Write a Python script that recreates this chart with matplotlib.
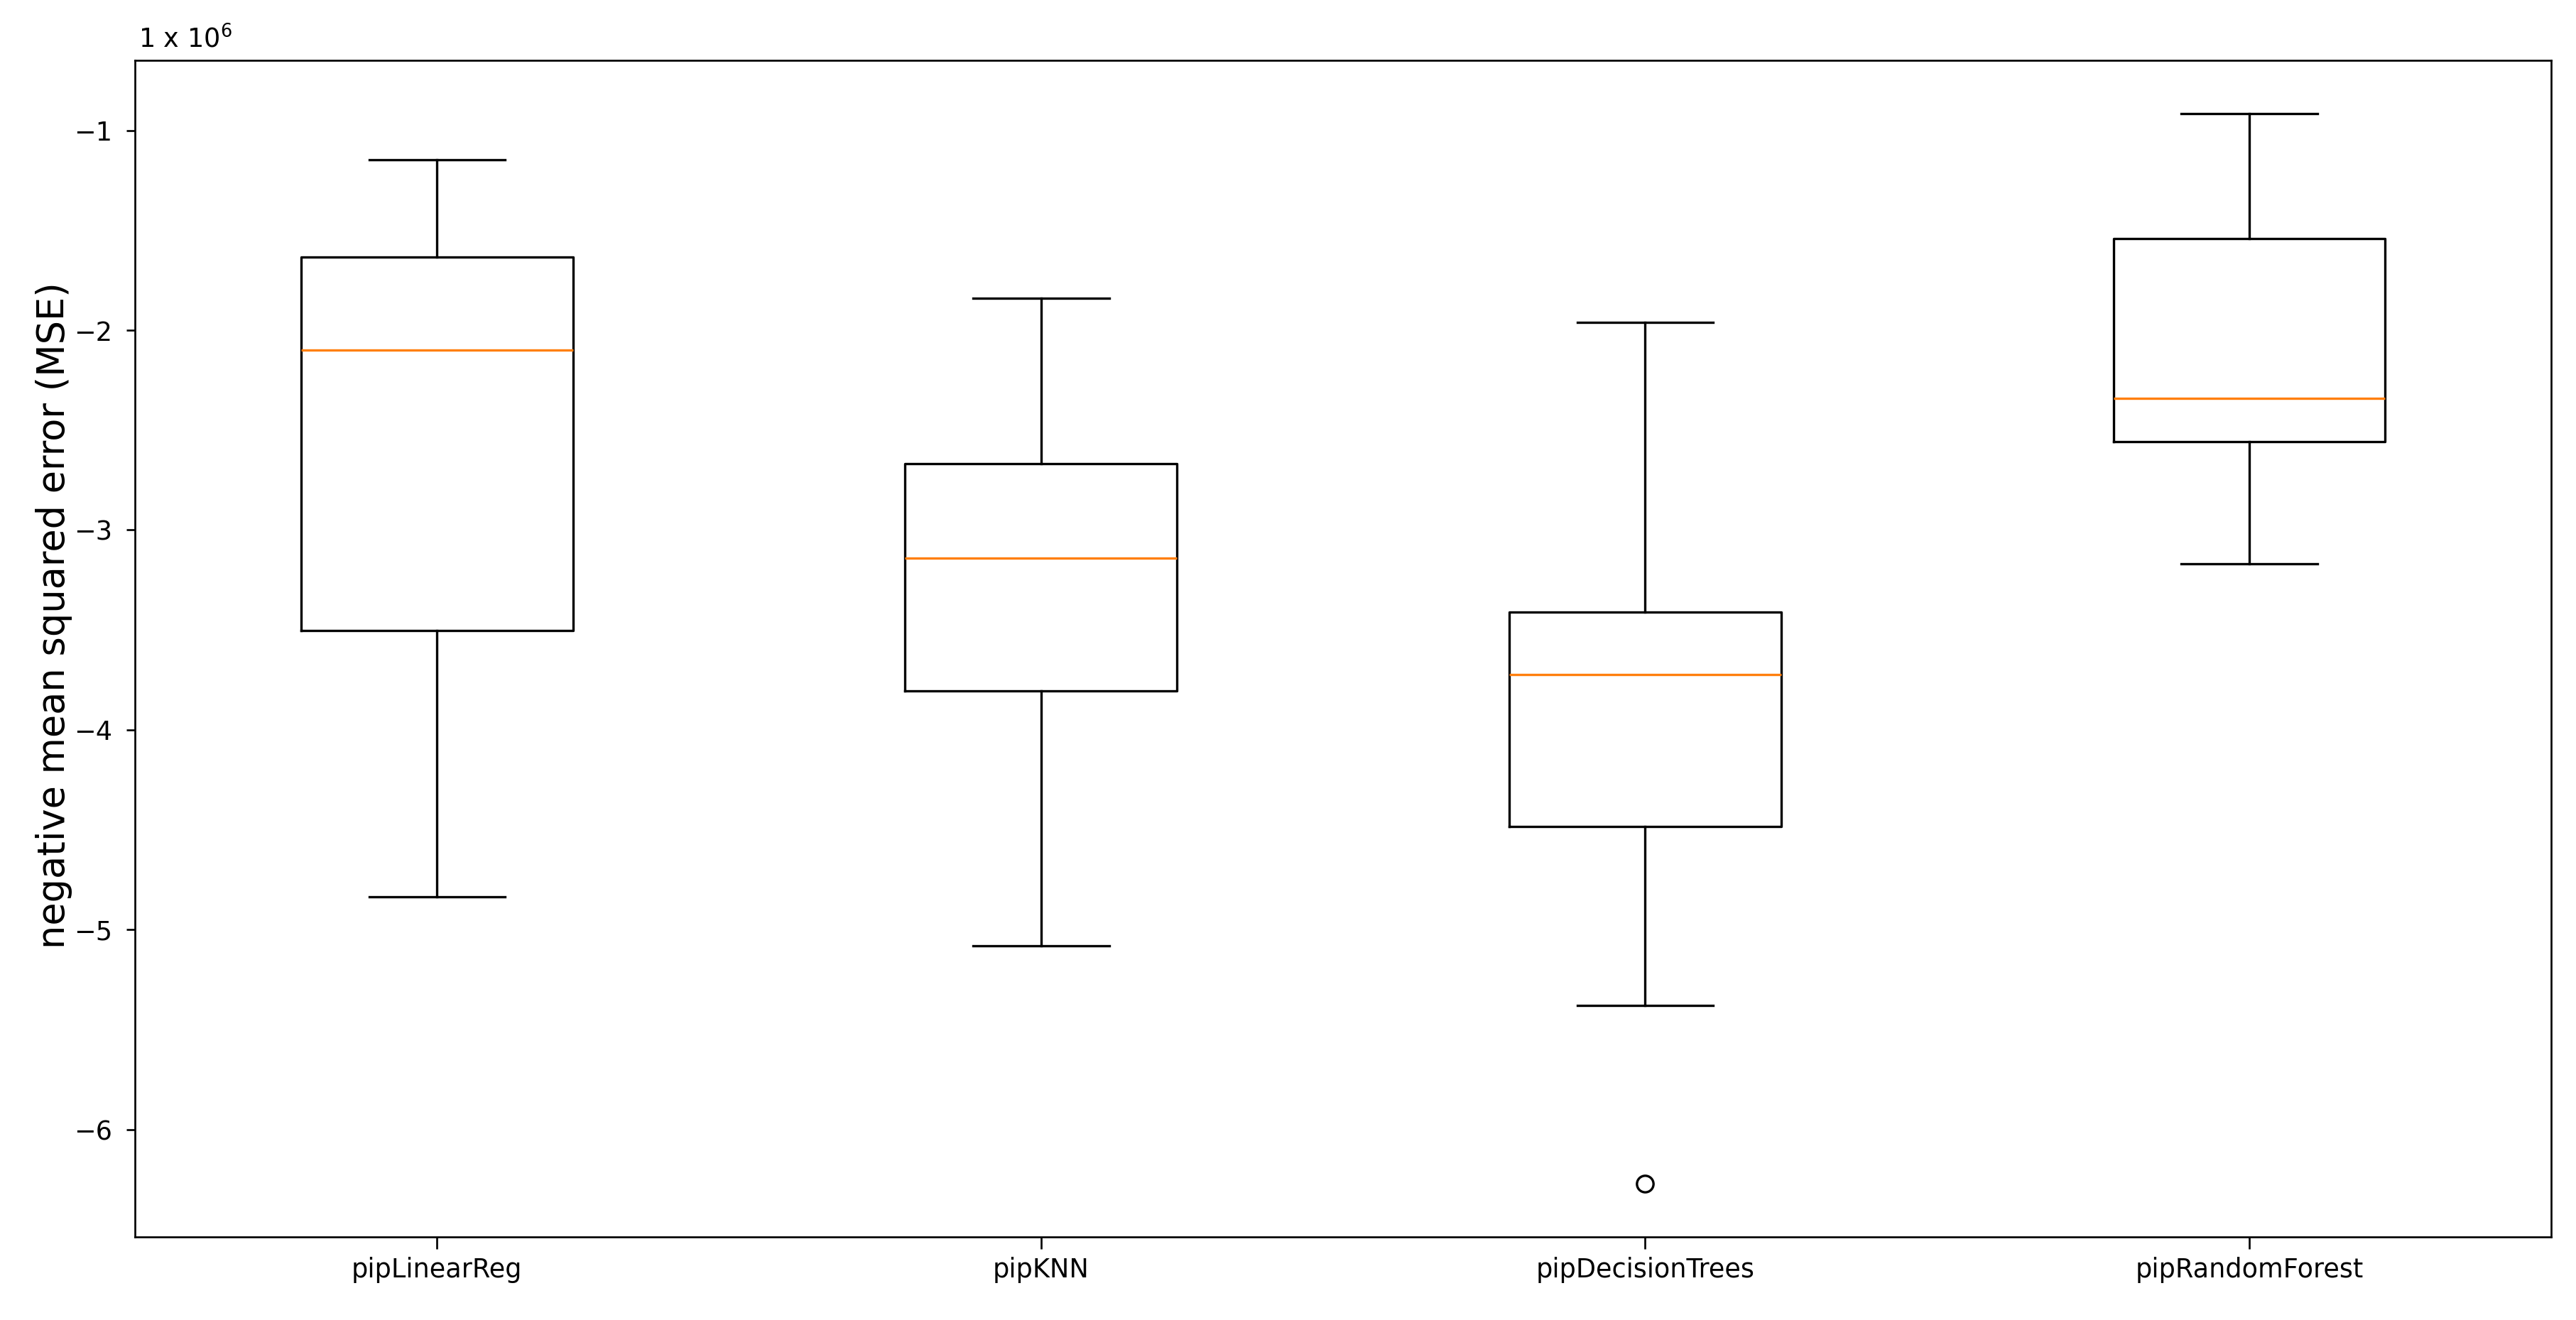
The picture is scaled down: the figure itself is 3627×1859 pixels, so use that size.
import matplotlib
matplotlib.use('Agg')
import matplotlib.pyplot as plt

# cross-validation scores per pipeline, in units of 1e6 (negative MSE)
models = ['pipLinearReg', 'pipKNN', 'pipDecisionTrees', 'pipRandomForest']
whisker_high = [-1.148, -1.840, -1.962, -0.917]
q3 = [-1.635, -2.669, -3.409, -1.543]
median = [-2.098, -3.142, -3.724, -2.340]
q1 = [-3.504, -3.806, -4.484, -2.556]
whisker_low = [-4.836, -5.082, -5.379, -3.170]
outliers = [[], [], [-6.27], []]

stats = []
for i in range(len(models)):
    stats.append(dict(label=models[i], whishi=whisker_high[i], q3=q3[i],
                      med=median[i], q1=q1[i], whislo=whisker_low[i],
                      fliers=outliers[i]))

fig = plt.figure(figsize=(3627 / 240, 1859 / 240), dpi=240)
ax = fig.add_axes([0.0524, 0.0629, 0.9380, 0.8914])

ax.bxp(stats, flierprops=dict(marker='o', markersize=7,
                              markerfacecolor='none', markeredgecolor='black'))
ax.set_xlim(0.5, 4.5)

ax.tick_params(axis='x', labelsize=11, length=5)
ax.tick_params(axis='y', labelsize=11, length=3.5, pad=6)

ax.set_ylabel('negative mean squared error (MSE)', fontsize=15.8)
ax.yaxis.set_label_coords(-0.026, 0.528)

ax.text(0.0015, 1.011, r'1 x 10$^{6}$', transform=ax.transAxes,
        fontsize=11, va='baseline', ha='left')

fig.savefig('out.png', dpi=240)
